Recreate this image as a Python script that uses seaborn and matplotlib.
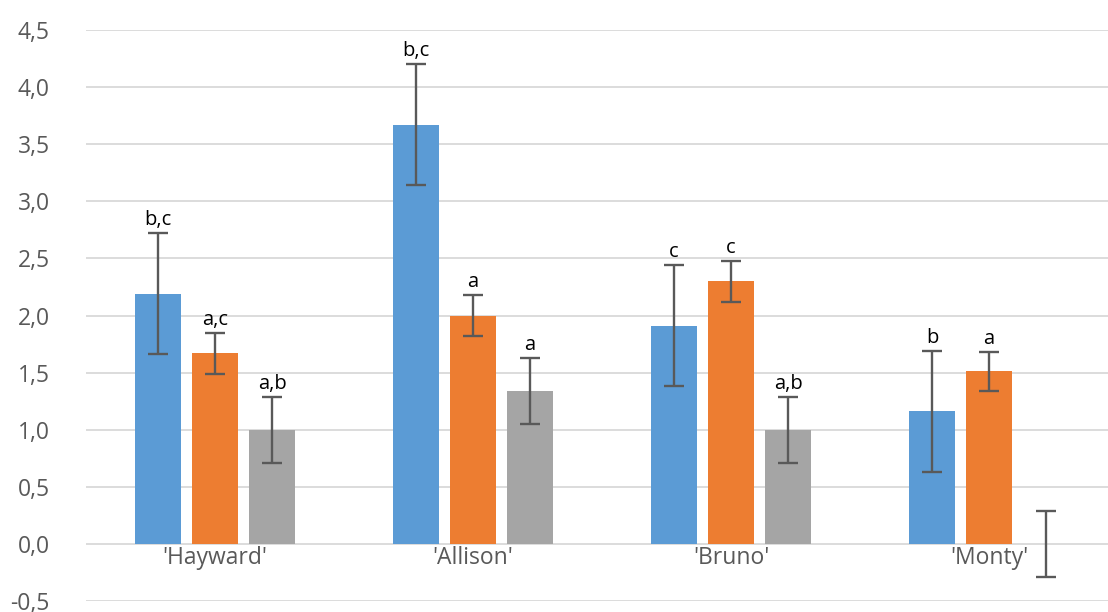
import numpy as np
import pandas as pd
import matplotlib
matplotlib.use("Agg")
import matplotlib.pyplot as plt
import seaborn as sns

# data
cultivars = ["'Hayward'", "'Allison'", "'Bruno'", "'Monty'"]
series = ["s1", "s2", "s3"]
values_s1 = [2.19, 3.67, 1.91, 1.16]
values_s2 = [1.67, 2.00, 2.30, 1.51]
values_s3 = [1.00, 1.34, 1.00, 0.00]
errors_s1 = [0.53, 0.53, 0.53, 0.53]
errors_s2 = [0.18, 0.18, 0.18, 0.17]
errors_s3 = [0.29, 0.29, 0.29, 0.29]
letters_s1 = ["b,c", "b,c", "c", "b"]
letters_s2 = ["a,c", "a", "c", "a"]
letters_s3 = ["a,b", "a", "a,b", ""]

colors = ["#5B9BD5", "#ED7D31", "#A5A5A5"]
tick_grey = "#595959"

df = pd.DataFrame({
    "cultivar": cultivars * 3,
    "series": np.repeat(series, len(cultivars)),
    "value": values_s1 + values_s2 + values_s3,
})
errs = [errors_s1, errors_s2, errors_s3]
letters = [letters_s1, letters_s2, letters_s3]

sns.set_style("white")
plt.rcParams["font.family"] = ["Open Sans", "DejaVu Sans"]

fig = plt.figure(figsize=(11.08, 6.12), dpi=100)
ax = fig.add_axes([86 / 1108, 11 / 612, 1032 / 1108, 571 / 612])

sns.barplot(data=df, x="cultivar", y="value", hue="series", order=cultivars,
            hue_order=series, palette=colors, width=0.663, gap=0.21,
            errorbar=None, legend=False, ax=ax, saturation=1, linewidth=0)

bar_containers = list(ax.containers)
for k, cont in enumerate(bar_containers):
    for i, bar in enumerate(cont.patches):
        xc = bar.get_x() + bar.get_width() / 2
        v = bar.get_height()
        e = errs[k][i]
        ax.errorbar(xc, v, yerr=e, fmt="none", ecolor=tick_grey,
                    elinewidth=1.7, capsize=7, capthick=1.7, zorder=4)
        if letters[k][i]:
            ax.text(xc, v + e + 0.025, letters[k][i], ha="center", va="bottom",
                    fontsize=14.5, color="black", zorder=5)

# category labels sit inside the plot just below zero (axis crosses at 0)
for i, name in enumerate(cultivars):
    ax.text(i, -0.12, name, ha="center", va="center", fontsize=16.5,
            color=tick_grey)

ax.set_xlim(-0.5, 3.5)
ax.set_ylim(-0.5, 4.5)
ax.set_yticks(np.arange(-0.5, 4.51, 0.5))
ax.set_yticklabels([f"{t:.1f}".replace(".", ",") for t in np.arange(-0.5, 4.51, 0.5)],
                   fontsize=16.5, color=tick_grey)
ax.set_xticks([])
ax.tick_params(axis="y", length=0, pad=26)
ax.yaxis.grid(True, color="#D9D9D9", linewidth=1.3)
ax.set_axisbelow(True)
ax.set_xlabel("")
ax.set_ylabel("")
for s in ax.spines.values():
    s.set_visible(False)

fig.savefig("out.png", dpi=100)
